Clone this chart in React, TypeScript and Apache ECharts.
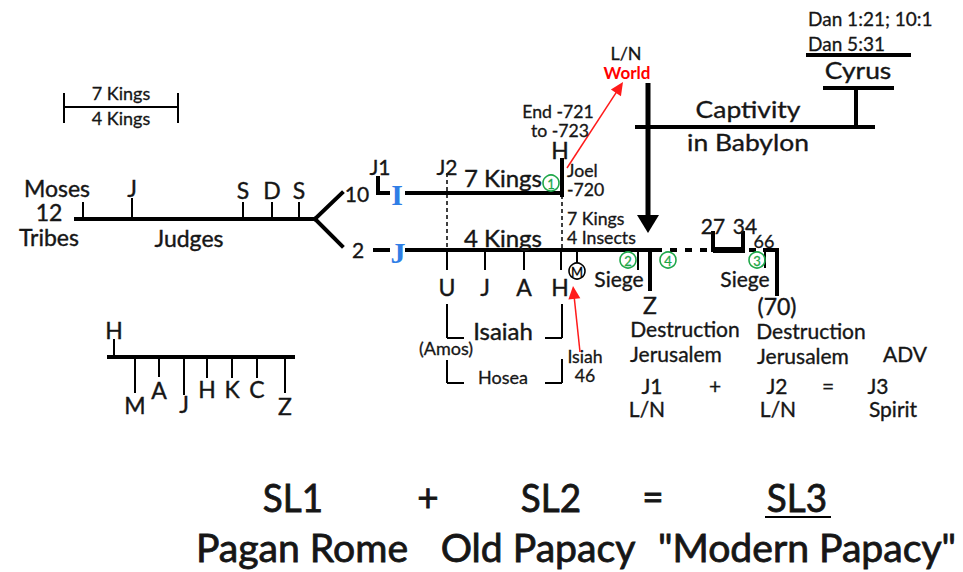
import React, { useEffect, useRef } from "react";
import * as echarts from "echarts";

type Seg = [number, number, number, number];
type Lbl = [number, number, string];
type Mark = [number, number, string];

const W = 963;
const H = 572;

// ---- structural lines (diagram coordinates) ----
const thickLines: Seg[] = [
  [76, 219, 315, 219],
  [315, 219, 342, 193],
  [315, 219, 342, 246],
  [378, 178, 378, 193],
  [378, 193, 388, 193],
  [407, 193, 562, 193],
  [562, 160, 562, 195],
  [375, 250, 388, 250],
  [407, 250, 653, 250],
  [650, 250, 650, 289],
  [713, 233, 713, 250],
  [743, 233, 743, 250],
  [765, 250, 777, 250],
  [777, 250, 777, 294],
  [637, 127, 873, 127],
  [856, 88, 856, 127],
  [825, 88, 892, 88],
  [808, 55, 909, 55],
  [109, 357, 293, 357],
];
const heavyLines: Seg[] = [[713, 250, 745, 250]];
const thinLines: Seg[] = [
  [64, 107, 178, 107],
  [64, 93, 64, 123],
  [178, 93, 178, 123],
  [83, 202, 83, 219],
  [132, 198, 132, 219],
  [243, 202, 243, 219],
  [272, 202, 272, 219],
  [299, 202, 299, 219],
  [447, 250, 447, 270],
  [485, 250, 485, 270],
  [524, 250, 524, 270],
  [561, 250, 561, 270],
  [577, 250, 577, 263],
  [638, 250, 638, 270],
  [765, 250, 765, 268],
  [114, 339, 114, 357],
  [135, 357, 135, 393],
  [159, 357, 159, 377],
  [184, 357, 184, 395],
  [207, 357, 207, 378],
  [232, 357, 232, 378],
  [257, 357, 257, 378],
  [285, 357, 285, 393],
  [447, 304, 447, 338],
  [447, 338, 464, 338],
  [562, 304, 562, 338],
  [545, 338, 562, 338],
  [447, 360, 447, 383],
  [447, 383, 464, 383],
  [562, 359, 562, 383],
  [545, 383, 562, 383],
  [765, 517, 831, 517],
];
const dashedLines: Seg[] = [
  [447, 173, 447, 250],
  [562, 195, 562, 250],
];
const dottedLines: Seg[] = [
  [655, 250, 710, 250],
  [749, 250, 756, 250],
];
const redArrows: Seg[] = [
  [567, 168, 623, 82],
  [580, 352, 573, 286],
];
const blackArrows: Seg[] = [[648, 83, 648, 233]];

// ---- labels ----
const legendLabels: Lbl[] = [
  [121, 93, "7 Kings"],
  [121, 118, "4 Kings"],
];
const mainLabels: Lbl[] = [
  [57, 188, "Moses"],
  [49, 212, "12"],
  [49, 237, "Tribes"],
  [189, 238, "Judges"],
  [132, 188, "J"],
  [243, 190, "S"],
  [272, 190, "D"],
  [299, 190, "S"],
  [447, 287, "U"],
  [485, 287, "J"],
  [524, 287, "A"],
  [560, 287, "H"],
  [560, 150, "H"],
  [650, 305, "Z"],
  [777, 306, "(70)"],
  [114, 330, "H"],
  [135, 405, "M"],
  [159, 390, "A"],
  [184, 404, "J"],
  [207, 389, "H"],
  [232, 389, "K"],
  [257, 389, "C"],
  [285, 406, "Z"],
];
const midLabels: Lbl[] = [
  [357, 193, "10"],
  [358, 249, "2"],
  [380, 166, "J1"],
  [447, 166, "J2"],
  [685, 328, "Destruction"],
  [676, 353, "Jerusalem"],
  [811, 330, "Destruction"],
  [803, 355, "Jerusalem"],
  [905, 353, "ADV"],
  [652, 385, "J1"],
  [647, 408, "L/N"],
  [715, 385, "+"],
  [777, 385, "J2"],
  [778, 408, "L/N"],
  [828, 385, "="],
  [878, 385, "J3"],
  [893, 408, "Spirit"],
  [619, 278, "Siege"],
  [745, 278, "Siege"],
  [713, 225, "27"],
  [745, 225, "34"],
];
const kingsLabels: Lbl[] = [
  [503, 177, "7 Kings"],
  [503, 237, "4 Kings"],
  [503, 330, "Isaiah"],
];
const smallCenter: Lbl[] = [
  [626, 53, "L/N"],
  [503, 377, "Hosea"],
  [446, 348, "(Amos)"],
  [764, 241, "66"],
];
const stackedCenter: Lbl[] = [
  [558, 112, "End -721"],
  [560, 131, "to -723"],
  [585, 357, "Isiah"],
  [585, 376, "46"],
];
const stackedLeft: Lbl[] = [
  [567, 171, "Joel"],
  [567, 190, "-720"],
  [567, 219, "7 Kings"],
  [567, 238, "4 Insects"],
];
const danLabels: Lbl[] = [
  [808, 18, "Dan 1:21; 10:1"],
  [808, 43, "Dan 5:31"],
];
const redLabels: Lbl[] = [[627, 72, "World"]];
const spacedLabels: Lbl[] = [
  [748, 109, "Captivity"],
  [748, 142, "in Babylon"],
  [858, 70, "Cyrus"],
];
const blueLabels: Lbl[] = [
  [397, 194, "I"],
  [398, 252, "J"],
];
const formulaLabels: Lbl[] = [
  [293, 497, "SL1"],
  [428, 496, "+"],
  [551, 497, "SL2"],
  [653, 496, "="],
  [797, 497, "SL3"],
];
const nameLabels: Lbl[] = [
  [302, 547, "Pagan Rome"],
  [538, 547, "Old Papacy"],
  [807, 547, "\"Modern Papacy\""],
];
const greenMarks: Mark[] = [
  [551, 183, "1"],
  [628, 260, "2"],
  [757, 260, "3"],
  [668, 260, "4"],
];
const blackMarks: Mark[] = [[577, 271, "M"]];

const FONT = "Lato, 'Open Sans', 'Noto Sans', sans-serif";
const INK = "#161616";

function segSeries(segs: Seg[], style: any) {
  return {
    type: "custom",
    coordinateSystem: "cartesian2d",
    silent: true,
    data: segs.map((s) => [s[0], s[1], s[2], s[3]]),
    renderItem: (params: any, api: any) => {
      const s = segs[params.dataIndex];
      const a = api.coord([s[0], s[1]]);
      const b = api.coord([s[2], s[3]]);
      return {
        type: "line",
        shape: { x1: a[0], y1: a[1], x2: b[0], y2: b[1] },
        style: { ...style },
      };
    },
  };
}

function arrowSeries(segs: Seg[], color: string, width: number, headLen: number, headHalf: number) {
  return {
    type: "custom",
    coordinateSystem: "cartesian2d",
    silent: true,
    data: segs.map((s) => [s[0], s[1], s[2], s[3]]),
    renderItem: (params: any, api: any) => {
      const s = segs[params.dataIndex];
      const a = api.coord([s[0], s[1]]);
      const b = api.coord([s[2], s[3]]);
      const dx = b[0] - a[0];
      const dy = b[1] - a[1];
      const len = Math.sqrt(dx * dx + dy * dy);
      const ux = dx / len;
      const uy = dy / len;
      const bx = b[0] - ux * headLen;
      const by = b[1] - uy * headLen;
      return {
        type: "group",
        children: [
          {
            type: "line",
            shape: { x1: a[0], y1: a[1], x2: bx + ux, y2: by + uy },
            style: { stroke: color, lineWidth: width },
          },
          {
            type: "polygon",
            shape: {
              points: [
                [b[0], b[1]],
                [bx - uy * headHalf, by + ux * headHalf],
                [bx + uy * headHalf, by - ux * headHalf],
              ],
            },
            style: { fill: color },
          },
        ],
      };
    },
  };
}

function textSeries(
  labels: Lbl[],
  font: string,
  fill: string,
  align: string,
  scaleX: number,
  strokeW: number
) {
  return {
    type: "custom",
    coordinateSystem: "cartesian2d",
    silent: true,
    data: labels.map((l) => [l[0], l[1]]),
    renderItem: (params: any, api: any) => {
      const l = labels[params.dataIndex];
      const p = api.coord([l[0], l[1]]);
      const style: any = { text: l[2], font, fill, align, verticalAlign: "middle" };
      if (strokeW > 0) {
        style.stroke = fill;
        style.lineWidth = strokeW;
      }
      return { type: "text", x: p[0], y: p[1], scaleX, style };
    },
  };
}

function markSeries(marks: Mark[], color: string, r: number, fontSize: number, bg: string) {
  return {
    type: "custom",
    coordinateSystem: "cartesian2d",
    silent: true,
    data: marks.map((m) => [m[0], m[1]]),
    renderItem: (params: any, api: any) => {
      const m = marks[params.dataIndex];
      const p = api.coord([m[0], m[1]]);
      return {
        type: "group",
        children: [
          {
            type: "circle",
            shape: { cx: p[0], cy: p[1], r },
            style: { fill: bg, stroke: color, lineWidth: 1.6 },
          },
          {
            type: "text",
            x: p[0],
            y: p[1] + 0.5,
            style: {
              text: m[2],
              font: `${fontSize}px ${FONT}`,
              fill: color,
              stroke: color,
              lineWidth: 0.3,
              align: "center",
              verticalAlign: "middle",
            },
          },
        ],
      };
    },
  };
}

export default function App() {
  const ref = useRef<HTMLDivElement>(null);
  useEffect(() => {
    if (!ref.current) return;
    const chart = echarts.init(ref.current, undefined, { renderer: "svg" });
    chart.setOption({
      animation: false,
      backgroundColor: "#ffffff",
      grid: { left: 0, right: 0, top: 0, bottom: 0, containLabel: false },
      xAxis: { type: "value", min: 0, max: W, show: false },
      yAxis: { type: "value", min: 0, max: H, inverse: true, show: false },
      series: [
        segSeries(thickLines, { stroke: "#000", lineWidth: 4, lineCap: "square" }),
        segSeries(heavyLines, { stroke: "#000", lineWidth: 6, lineCap: "butt" }),
        segSeries(thinLines, { stroke: "#000", lineWidth: 2, lineCap: "butt" }),
        segSeries(dashedLines, { stroke: "#000", lineWidth: 1.5, lineDash: [4, 3] }),
        segSeries(dottedLines, { stroke: "#000", lineWidth: 4, lineDash: [7, 8] }),
        arrowSeries(redArrows, "#ff1a1a", 1.5, 13, 6),
        arrowSeries(blackArrows, "#000", 5, 18, 11),
        textSeries(legendLabels, `18px ${FONT}`, INK, "center", 1, 0.3),
        textSeries(mainLabels, `23px ${FONT}`, INK, "center", 1, 0.4),
        textSeries(midLabels, `21px ${FONT}`, INK, "center", 1, 0.35),
        textSeries(kingsLabels, `24px ${FONT}`, INK, "center", 1, 0.4),
        textSeries(smallCenter, `18px ${FONT}`, INK, "center", 1, 0.3),
        textSeries(stackedCenter, `17px ${FONT}`, INK, "center", 1.04, 0.3),
        textSeries(stackedLeft, `17px ${FONT}`, INK, "left", 1.04, 0.3),
        textSeries(danLabels, `19px ${FONT}`, INK, "left", 1, 0.3),
        textSeries(redLabels, `bold 17px ${FONT}`, "#ff0000", "center", 1, 0),
        textSeries(spacedLabels, `23px ${FONT}`, INK, "center", 1.15, 0.35),
        textSeries(blueLabels, `bold 30px 'Liberation Serif', 'DejaVu Serif', serif`, "#2f7ee6", "center", 1, 0),
        textSeries(formulaLabels, `38px ${FONT}`, INK, "center", 0.97, 0.8),
        textSeries(nameLabels, `38px ${FONT}`, INK, "center", 1.03, 0.8),
        markSeries(greenMarks, "#1fa84a", 8, 13, "none"),
        markSeries(blackMarks, "#000", 8, 13, "#fff"),
      ],
    });
    return () => chart.dispose();
  }, []);
  return (
    <div
      ref={ref}
      style={{ position: "fixed", left: 0, top: 0, width: W, height: H, background: "#fff" }}
    />
  );
}
